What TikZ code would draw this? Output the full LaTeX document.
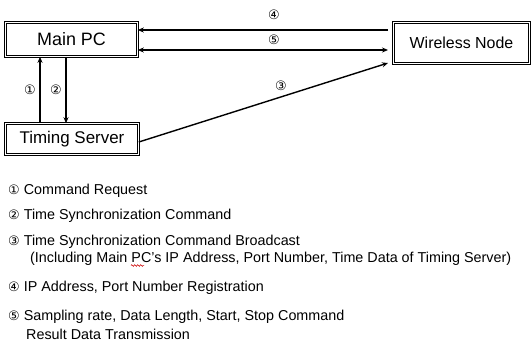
\documentclass[tikz,border=0pt]{standalone}
\usepackage{fontspec}
\setmainfont{Liberation Sans}
\newfontfamily\circfont{DejaVu Sans}
\usetikzlibrary{arrows.meta,decorations.pathmorphing}
\newcommand\cnum[1]{{\circfont\fontsize{13}{14}\selectfont #1}}
\tikzset{
  box/.style={draw,double,double distance=1.4bp,line width=0.6bp,inner sep=0pt},
  conn/.style={line width=1.4bp,-{Stealth[length=6bp,width=5bp]}},
  num/.style={inner sep=0pt},
  item/.style={anchor=west,inner sep=0pt,font=\fontsize{14.4}{16}\selectfont,align=left},
  spell/.style={draw=red!80!black,line width=0.5bp,decorate,decoration={zigzag,amplitude=0.9bp,segment length=3bp}}
}
\begin{document}
\begin{tikzpicture}[x=1bp,y=-1bp]
\useasboundingbox (0,0) rectangle (531,343);
\node[box,minimum width=132bp,minimum height=34bp,font=\fontsize{18}{20}\selectfont] (mp) at (71.5,39.5) {Main PC};
\node[box,minimum width=133bp,minimum height=31bp,font=\fontsize{17}{19}\selectfont] (ts) at (72,139) {Timing Server};
\node[box,minimum width=136bp,minimum height=41bp,font=\fontsize{16}{18}\selectfont] (wn) at (461.5,43) {Wireless Node};
% free ends
\coordinate (w4) at (388,30);
\coordinate (w5) at (388,50);
\coordinate (w3) at (388,63);
\draw[conn] (w4) -- (mp.east |- w4);
\draw[conn,{Stealth[length=6bp,width=5bp]}-{Stealth[length=6bp,width=5bp]}] (mp.east |- w5) -- (w5);
\draw[conn] (ts.east |- 0,142) -- (w3);
\draw[conn] (ts.north -| 40,0) -- (mp.south -| 40,0);
\draw[conn] (mp.south -| 66,0) -- (ts.north -| 66,0);
\node[num] (n1) at (30,90) {\cnum{①}};
\node[num] (n2) at (56,90) {\cnum{②}};
\node[num] (n4) at (274,15) {\cnum{④}};
\node[num] (n5) at (274,40) {\cnum{⑤}};
\node[num] (n3) at (281,86) {\cnum{③}};
% legend
\node[item] (l1) at (8,191) {\cnum{①} Command Request};
\node[item] (l2) at (8,216) {\cnum{②} Time Synchronization Command};
\node[item] (l3) at (8,242) {\cnum{③} Time Synchronization Command Broadcast};
\node[item] (l3b) at (30,259) {(Including Main PC’s IP Address, Port Number, Time Data of Timing Server)};
\node[item] (l4) at (8,288) {\cnum{④} IP Address, Port Number Registration};
\node[item] (l5) at (8,317) {\cnum{⑤} Sampling rate, Data Length, Start, Stop Command};
\node[item] (l5b) at (26,334) {Result Data Transmission};
\coordinate (sq1) at (131,265.5);
\coordinate (sq2) at (144,265.5);
\draw[spell] (sq1) -- (sq2);
\end{tikzpicture}
\end{document}
